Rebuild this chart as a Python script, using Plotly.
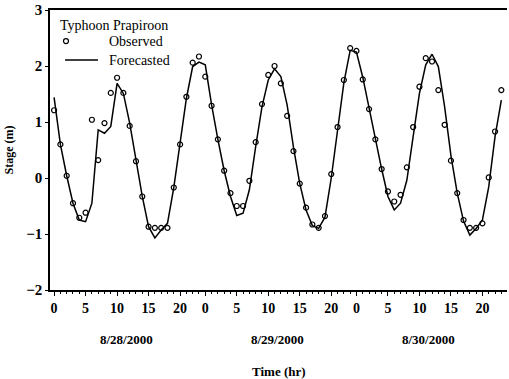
import plotly.graph_objects as go

# Hours since 8/28/2000 00:00
hours = list(range(72))

observed = [1.21, 0.60, 0.04, -0.45, -0.71, -0.62, 1.04, 0.32, 0.98, 1.52, 1.79, 1.52,
            0.93, 0.30, -0.33, -0.87, -0.89, -0.89, -0.89, -0.17, 0.60, 1.45, 2.06, 2.17,
            1.81, 1.29, 0.69, 0.13, -0.27, -0.50, -0.50, -0.05, 0.64, 1.32, 1.84, 2.00,
            1.69, 1.11, 0.48, -0.10, -0.53, -0.83, -0.89, -0.68, 0.07, 0.91, 1.75, 2.32,
            2.27, 1.76, 1.23, 0.69, 0.16, -0.24, -0.42, -0.30, 0.19, 0.91, 1.63, 2.14,
            2.08, 1.57, 0.95, 0.31, -0.27, -0.75, -0.89, -0.89, -0.81, 0.01, 0.83, 1.57]

forecasted = [1.44, 0.60, 0.04, -0.45, -0.75, -0.78, -0.45, 0.86, 0.80, 0.92, 1.69, 1.51,
              0.98, 0.31, -0.33, -0.87, -1.07, -0.93, -0.81, -0.17, 0.58, 1.42, 1.99, 2.07,
              2.02, 1.31, 0.69, 0.13, -0.33, -0.67, -0.63, -0.21, 0.56, 1.27, 1.75, 1.95,
              1.81, 1.30, 0.55, -0.10, -0.57, -0.85, -0.90, -0.70, 0.00, 0.85, 1.70, 2.28,
              2.25, 1.80, 1.25, 0.70, 0.16, -0.33, -0.57, -0.45, -0.04, 0.74, 1.51, 2.02,
              2.21, 1.99, 1.27, 0.40, -0.27, -0.77, -1.02, -0.90, -0.75, -0.16, 0.74, 1.39]

tick_vals = [0, 5, 10, 15, 20, 24, 29, 34, 39, 44, 48, 53, 58, 63, 68]
tick_text = ["0", "5", "10", "15", "20", "0", "5", "10", "15", "20", "0", "5", "10", "15", "20"]
day_labels = ["8/28/2000", "8/29/2000", "8/30/2000"]
day_label_pos = [11.5, 35.5, 59.5]
legend_title = "Typhoon Prapiroon"
series_names = ["Observed", "Forecasted"]

serif = "Liberation Serif"

fig = go.Figure()
fig.add_trace(go.Scatter(
    x=hours, y=forecasted, mode="lines", name=series_names[1],
    line=dict(color="black", width=1.5), showlegend=False))
fig.add_trace(go.Scatter(
    x=hours, y=observed, mode="markers", name=series_names[0],
    marker=dict(symbol="circle-open", size=5, color="black", line=dict(width=1.2)),
    showlegend=False))

# Manual legend (paper coordinates)
fig.add_annotation(x=0.018, y=0.946, xref="paper", yref="paper", text=legend_title,
                   showarrow=False, xanchor="left", yanchor="middle",
                   font=dict(family=serif, size=14, color="black"))
fig.add_shape(type="circle", xref="paper", yref="paper", xsizemode="pixel", ysizemode="pixel",
              xanchor=0.035, yanchor=0.889, x0=-2.5, x1=2.5, y0=-2.5, y1=2.5,
              line=dict(color="black", width=1.2))
fig.add_annotation(x=0.124, y=0.889, xref="paper", yref="paper", text=series_names[0],
                   showarrow=False, xanchor="left", yanchor="middle",
                   font=dict(family=serif, size=14, color="black"))
fig.add_shape(type="line", xref="paper", yref="paper", x0=0.033, x1=0.105, y0=0.821, y1=0.821,
              line=dict(color="black", width=1.5))
fig.add_annotation(x=0.124, y=0.821, xref="paper", yref="paper", text=series_names[1],
                   showarrow=False, xanchor="left", yanchor="middle",
                   font=dict(family=serif, size=14, color="black"))

for lab, pos in zip(day_labels, day_label_pos):
    fig.add_annotation(x=pos, y=-0.175, xref="x", yref="paper", text="<b>" + lab + "</b>",
                       showarrow=False, font=dict(family=serif, size=13, color="black"),
                       xanchor="center", yanchor="middle")

fig.add_annotation(x=0.5, y=-0.29, xref="paper", yref="paper", text="<b>Time (hr)</b>",
                   showarrow=False, font=dict(family=serif, size=13, color="black"),
                   xanchor="center", yanchor="middle")

fig.update_layout(
    width=509, height=379,
    margin=dict(l=50, r=2, t=10, b=89),
    paper_bgcolor="white", plot_bgcolor="white",
    font=dict(family=serif, size=13, color="black"),
    showlegend=False,
    xaxis=dict(
        range=[-0.65, 71.9], showgrid=False, zeroline=False,
        showline=True, linecolor="black", linewidth=1.5, mirror=True,
        tickmode="array", tickvals=tick_vals, ticktext=tick_text,
        ticks="outside", ticklen=4, tickcolor="black", tickwidth=1,
        tickfont=dict(family=serif, size=14, color="black", weight="bold"),
        minor=dict(tickmode="linear", tick0=0, dtick=1, ticks="outside",
                   ticklen=2, tickcolor="black"),
    ),
    yaxis=dict(
        range=[-2, 3], showgrid=False, zeroline=False,
        showline=True, linecolor="black", linewidth=1.5,
        tickmode="linear", tick0=-2, dtick=1,
        ticks="outside", ticklen=3, tickcolor="black",
        tickfont=dict(family=serif, size=15, color="black", weight="bold"),
        title=dict(text="<b>Stage (m)</b>", font=dict(family=serif, size=12), standoff=10),
    ),
)

fig.write_html("out.html")
